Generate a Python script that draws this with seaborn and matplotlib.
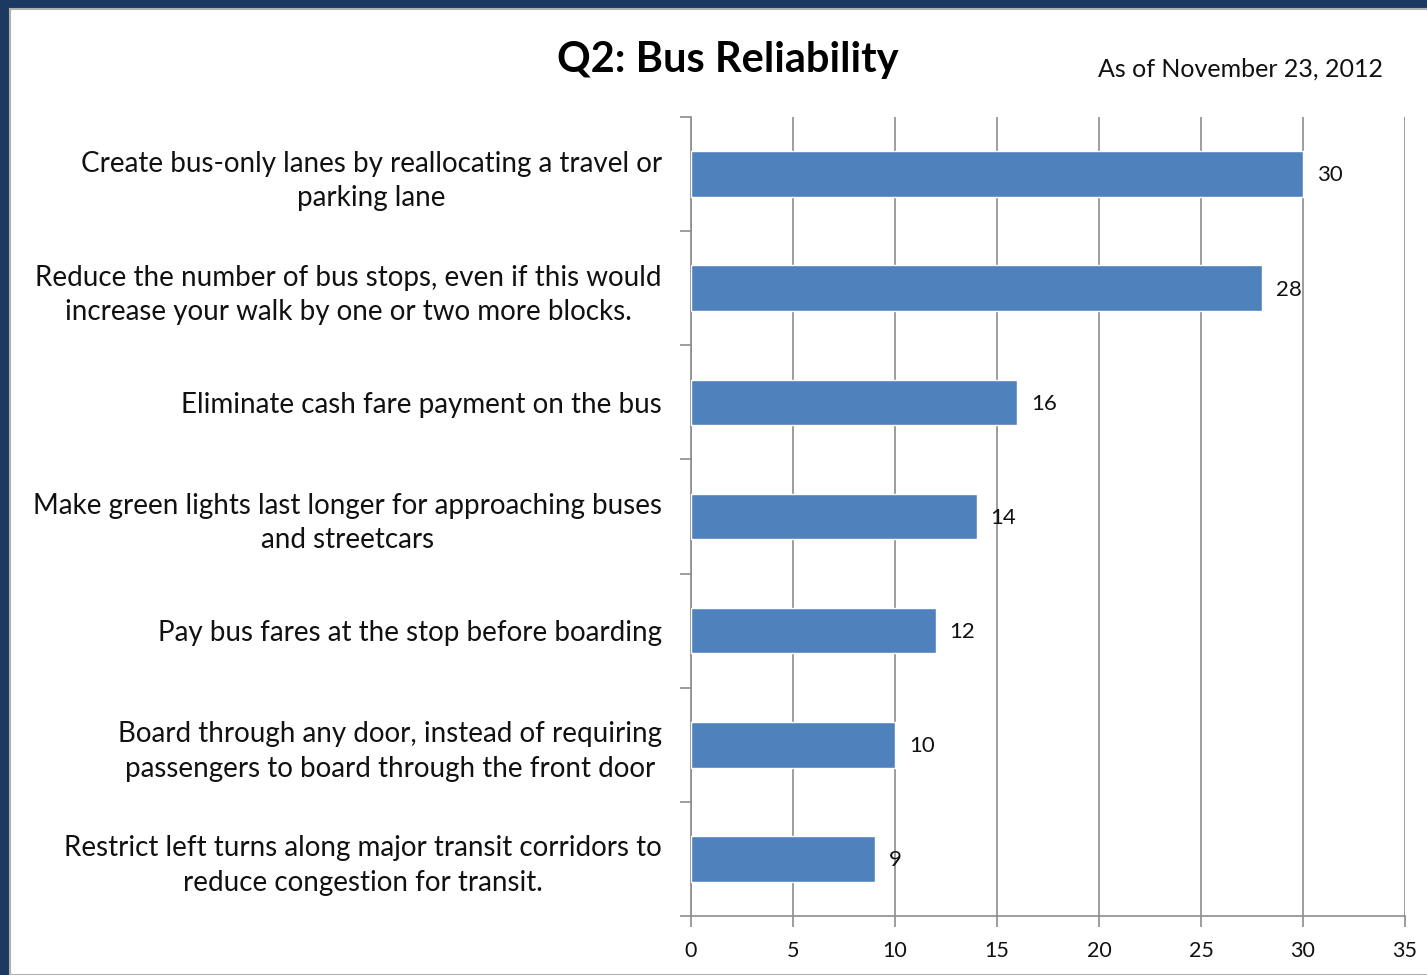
import numpy as np
import pandas as pd
import matplotlib.pyplot as plt
import seaborn as sns
from matplotlib.patches import Rectangle

# ==========================================
# 1. DATA
# ==========================================
options = [
    "Create bus-only lanes by reallocating a travel or\nparking lane",
    "Reduce the number of bus stops, even if this would\nincrease your walk by one or two more blocks.",
    "Eliminate cash fare payment on the bus",
    "Make green lights last longer for approaching buses\nand streetcars",
    "Pay bus fares at the stop before boarding",
    "Board through any door, instead of requiring\npassengers to board through the front door",
    "Restrict left turns along major transit corridors to\nreduce congestion for transit.",
]
votes = [30, 28, 16, 14, 12, 10, 9]
x_ticks = [0, 5, 10, 15, 20, 25, 30, 35]

title = "Q2: Bus Reliability"
subtitle = "As of November 23, 2012"

df = pd.DataFrame({"option": options, "votes": votes})

# ==========================================
# 2. FIGURE & FRAME
# ==========================================
sns.set_style("white")
plt.rcParams["font.family"] = ["Lato", "DejaVu Sans"]

navy = "#1b3961"
bar_blue = "#4f81bd"
grid_gray = "#8c8c8c"

fig = plt.figure(figsize=(14.27, 9.75), dpi=100)
fig.patch.set_facecolor(navy)
panel = Rectangle((10 / 1427, 0), 1, 1 - 9 / 975, transform=fig.transFigure,
                  facecolor="white", edgecolor="#b0b0b0", linewidth=1.5, zorder=-10)
fig.patches.append(panel)

ax = fig.add_axes([691 / 1427, 1 - 916 / 975, (1405 - 691) / 1427, (916 - 117) / 975])
ax.set_facecolor("none")

# ==========================================
# 3. BARS
# ==========================================
sns.barplot(data=df, x="votes", y="option", orient="h", color=bar_blue,
            width=0.4, saturation=1, ax=ax, zorder=3)

for i, v in enumerate(votes):
    ax.annotate(str(v), xy=(v, i), xytext=(10, -1), textcoords="offset points",
                va="center", ha="left", fontsize=16, color="#111111", zorder=4)

# ==========================================
# 4. AXES STYLING
# ==========================================
ax.set_xlim(0, 35)
ax.set_ylim(len(options) - 0.5, -0.5)
ax.set_xticks(x_ticks)
ax.set_xticklabels([str(t) for t in x_ticks], fontsize=15.5, color="#111111")
ax.xaxis.grid(True, color=grid_gray, linewidth=1.2, zorder=0)
ax.set_axisbelow(True)

ax.set_yticks(range(len(options)))
ax.set_yticklabels(options, fontsize=20, color="#111111", multialignment="center",
                   linespacing=1.4)
ax.tick_params(axis="y", which="major", left=False, length=0, pad=21)
ax.set_yticks(np.arange(-0.5, len(options), 1), minor=True)
ax.tick_params(axis="y", which="minor", left=True, length=8, width=1.2,
               color=grid_gray, direction="out")
ax.tick_params(axis="x", bottom=True, length=8, width=1.2, color=grid_gray,
               direction="out", pad=10)

ax.set_xlabel("")
ax.set_ylabel("")
for side in ["top", "right"]:
    ax.spines[side].set_visible(False)
for side in ["left", "bottom"]:
    ax.spines[side].set_color(grid_gray)
    ax.spines[side].set_linewidth(1.2)

# ==========================================
# 5. TITLES
# ==========================================
fig.text(728 / 1427, 1 - 60 / 975, title, ha="center", va="center",
         fontsize=30, fontweight="bold", color="black")
fig.text(1383 / 1427, 1 - 69 / 975, subtitle, ha="right", va="center",
         fontsize=18, color="#111111")

fig.savefig("out.png", dpi=100, facecolor=fig.get_facecolor())
